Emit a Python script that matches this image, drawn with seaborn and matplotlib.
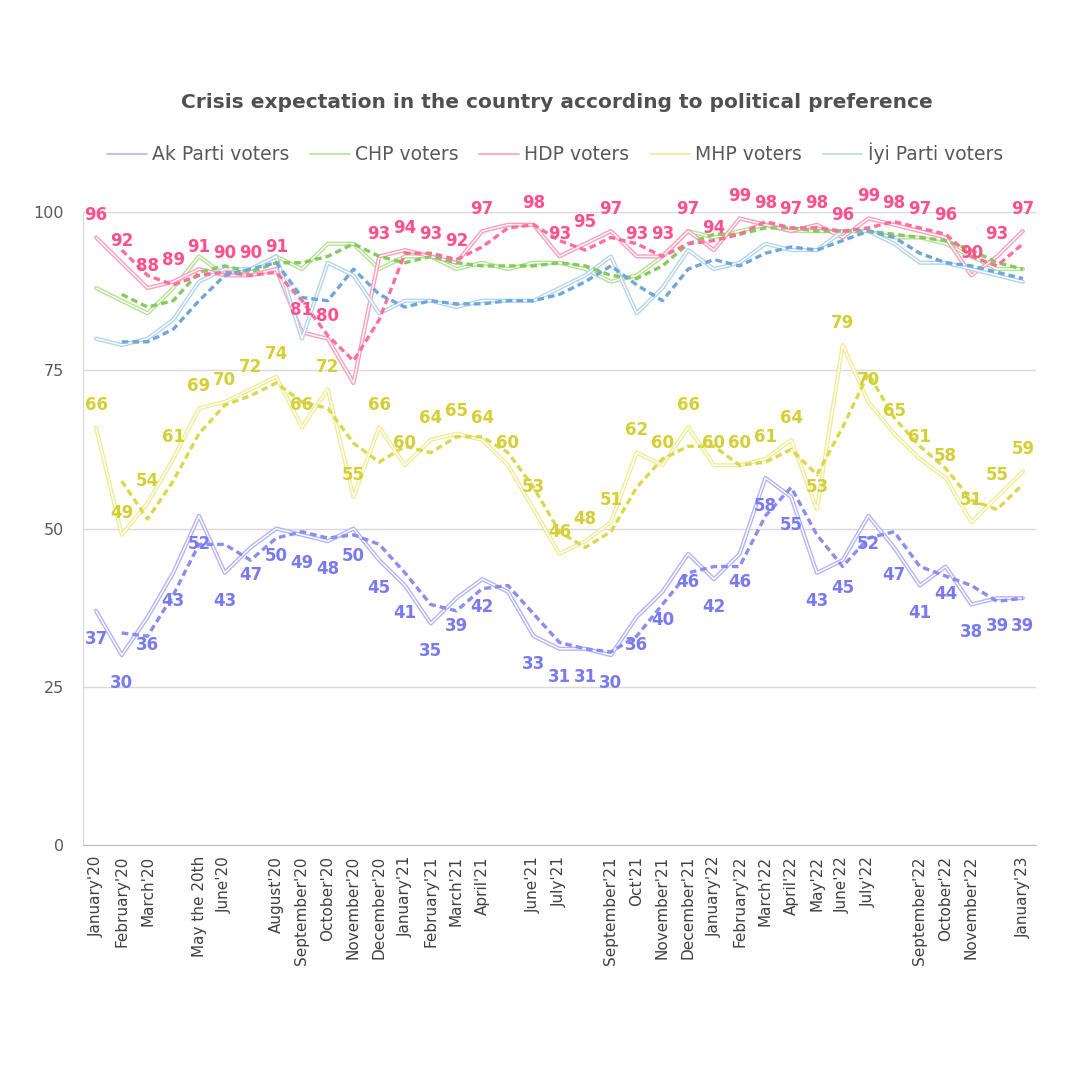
import matplotlib
matplotlib.use("Agg")
import matplotlib.pyplot as plt
import matplotlib.patheffects as pe
from matplotlib.lines import Line2D
from matplotlib.ticker import FixedLocator
import pandas as pd
import seaborn as sns

# x categories (blank ones have data but no label)
months = ["January'20", "February'20", "March'20", "", "May the 20th", "June'20", "",
          "August'20", "September'20", "October'20", "November'20", "December'20",
          "January'21", "February'21", "March'21", "April'21", "", "June'21", "July'21", "",
          "September'21", "Oct'21", "November'21", "December'21", "January'22", "February'22",
          "March'22", "April'22", "May'22", "June'22", "July'22", "", "September'22",
          "October'22", "November'22", "", "January'23"]

ak = [37, 30, 36, 43, 52, 43, 47, 50, 49, 48, 50, 45, 41, 35, 39, 42, 40, 33, 31, 31, 30, 36,
      40, 46, 42, 46, 58, 55, 43, 45, 52, 47, 41, 44, 38, 39, 39]
chp = [88, 86, 84, 88, 93, 90, 91, 93, 91, 95, 95, 91, 93, 93, 91, 92, 91, 92, 92, 91, 89, 90,
       93, 97, 96, 97, 98, 97, 97, 97, 97, 96, 96, 95, 93, 91, 91]
hdp = [96, 92, 88, 89, 91, 90, 90, 91, 81, 80, 73, 93, 94, 93, 92, 97, 98, 98, 93, 95, 97, 93,
       93, 97, 94, 99, 98, 97, 98, 96, 99, 98, 97, 96, 90, 93, 97]
mhp = [66, 49, 54, 61, 69, 70, 72, 74, 66, 72, 55, 66, 60, 64, 65, 64, 60, 53, 46, 48, 51, 62,
       60, 66, 60, 60, 61, 64, 53, 79, 70, 65, 61, 58, 51, 55, 59]
iyi = [80, 79, 80, 83, 89, 91, 91, 93, 80, 92, 90, 84, 86, 86, 85, 86, 86, 86, 88, 90, 93, 84,
       88, 94, 91, 92, 95, 94, 94, 97, 97, 95, 92, 92, 91, 90, 89]

# labels hidden in the original
hdp_nolabel = [10, 16]
ak_nolabel = [16]

parties = ["Ak Parti voters", "CHP voters", "HDP voters", "MHP voters", "İyi Parti voters"]
thin_colors = ["#b4b4fc", "#b2e296", "#ff9dbd", "#eeed97", "#b5d4ef"]
dash_colors = ["#8c8cf2", "#86c95c", "#ff6f9c", "#dcd84e", "#6fa7dc"]
label_colors = ["#7a7af0", None, "#ff4f8d", "#d4cf35", None]

rows = []
for p, vals in zip(parties, [ak, chp, hdp, mhp, iyi]):
    for i, v in enumerate(vals):
        rows.append({"party": p, "idx": i, "value": v})
df = pd.DataFrame(rows)
# 2-period moving average trendline
df["ma"] = df.groupby("party")["value"].transform(lambda s: s.rolling(2).mean())

sns.set_style("white")
plt.rcParams["font.family"] = ["DejaVu Sans"]

fig = plt.figure(figsize=(10.8, 10.8), dpi=100)
ax = fig.add_axes([0.077, 0.2176, 0.882, 0.586])

sns.lineplot(data=df, x="idx", y="value", hue="party", hue_order=parties,
             palette=dict(zip(parties, thin_colors)), linewidth=1.0, legend=False, ax=ax)
for ln, c in zip(ax.lines, thin_colors):
    ln.set_path_effects([pe.Stroke(linewidth=3.0, foreground=c),
                         pe.Stroke(linewidth=1.0, foreground="white")])

sns.lineplot(data=df.dropna(), x="idx", y="ma", hue="party", hue_order=parties,
             palette=dict(zip(parties, dash_colors)), linewidth=2.4,
             linestyle=(0, (2, 1.2)), legend=False, ax=ax)

# data labels
for p, vals, lc, skip, off in [(parties[0], ak, label_colors[0], ak_nolabel, -20),
                               (parties[2], hdp, label_colors[2], hdp_nolabel, 16),
                               (parties[3], mhp, label_colors[3], [], 16)]:
    for i, v in enumerate(vals):
        if i in skip:
            continue
        ax.annotate(str(v), (i, v), xytext=(0, off), textcoords="offset points",
                    ha="center", va="center", fontsize=12, fontweight="heavy",
                    color=lc, annotation_clip=False)

ax.set_xlim(-0.5, len(months) - 0.5)
ax.set_ylim(0, 100)
ax.set_yticks([0, 25, 50, 75, 100])
ax.set_xticks(range(len(months)))
ax.set_xticklabels(months, rotation=90, fontsize=11, color="#404040")
ax.xaxis.set_minor_locator(FixedLocator([i - 0.5 for i in range(len(months) + 1)]))
ax.tick_params(axis="x", which="major", length=0, pad=8)
ax.tick_params(axis="x", which="minor", length=5, color="#bfbfbf", width=1)
ax.tick_params(axis="y", length=0, pad=14, labelsize=11.5, labelcolor="#595959")
ax.set_xlabel("")
ax.set_ylabel("")
ax.grid(axis="y", color="#d9d9d9", linewidth=1)
ax.set_axisbelow(True)
for s in ["top", "right"]:
    ax.spines[s].set_visible(False)
ax.spines["left"].set_color("#d9d9d9")
ax.spines["bottom"].set_color("#bfbfbf")

fig.text(0.516, 0.905, "Crisis expectation in the country according to political preference",
         ha="center", va="center", fontsize=14.5, fontweight="heavy", color="#505050")

handles = [Line2D([], [], color=c, linewidth=1.2) for c in thin_colors]
fig.legend(handles, parties, loc="center", bbox_to_anchor=(0.514, 0.858), ncol=5,
           frameon=False, fontsize=13.5, handlelength=2.1, handletextpad=0.3,
           columnspacing=1.1, labelcolor="#595959")

fig.savefig("out.png", dpi=100, facecolor="white")
